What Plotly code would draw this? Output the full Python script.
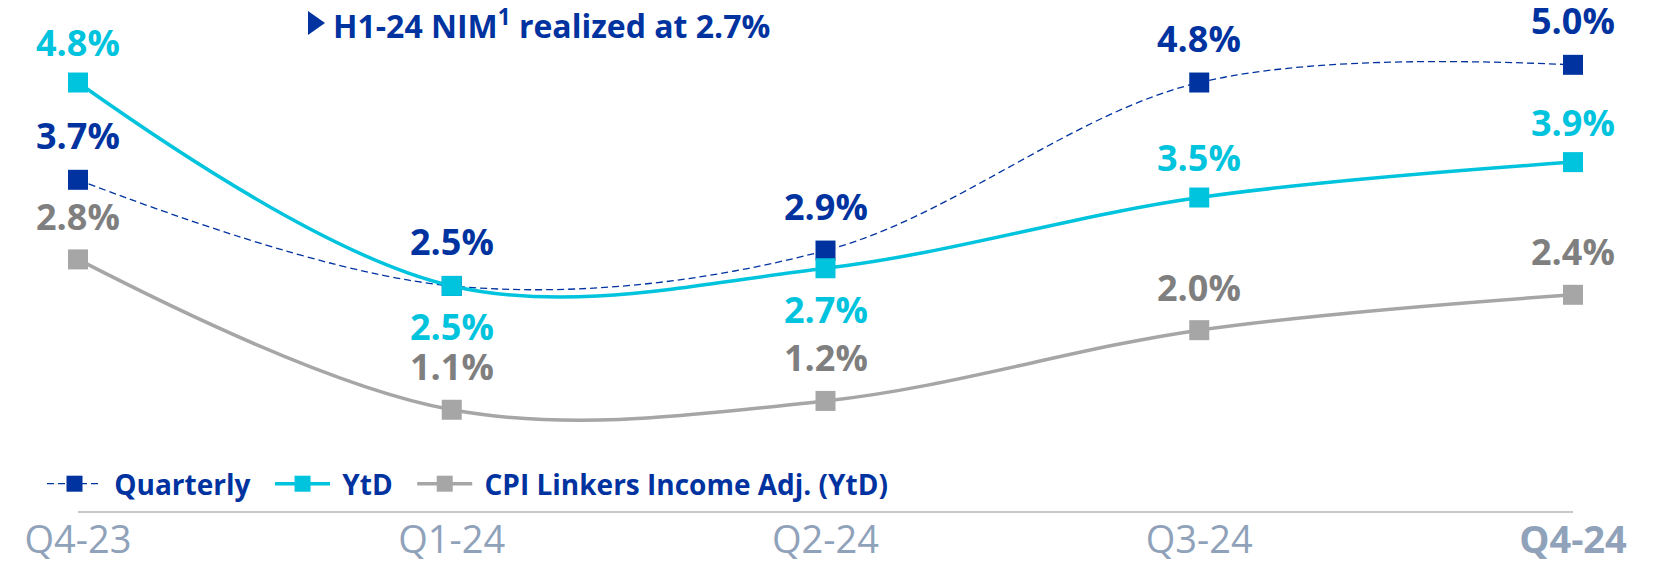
import plotly.graph_objects as go

# ---- data ----
quarters = ["Q4-23", "Q1-24", "Q2-24", "Q3-24", "Q4-24"]
quarterly = [3.7, 2.5, 2.9, 4.8, 5.0]
ytd = [4.8, 2.5, 2.7, 3.5, 3.9]
cpi_adj = [2.8, 1.1, 1.2, 2.0, 2.4]
series_names = ["Quarterly", "YtD", "CPI Linkers Income Adj. (YtD)"]
# label side per point (+1 above, -1 below)
ytd_label_side = [1, -1, -1, 1, 1]
quarterly_label_side = [1, 1, 1, 1, 1]
cpi_label_side = [1, 1, 1, 1, 1]
headline = "H1-24 NIM<sup>1</sup> realized at 2.7%"

DARK = "#0033A0"
CYAN = "#00C3DD"
GREY = "#A6A6A6"
GREY_TXT = "#7F7F7F"
TICK = "#8FA2BA"
FONT = "Open Sans"

xs = list(range(len(quarters)))
NB = "\u00a0"

fig = go.Figure()
fig.add_trace(go.Scatter(
    x=xs, y=quarterly, name=NB + series_names[0] + NB * 2, mode="lines+markers", cliponaxis=False,
    line=dict(color=DARK, width=1.3, dash="7px,4px", shape="spline", smoothing=1),
    marker=dict(symbol="square", size=20, color=DARK),
))
fig.add_trace(go.Scatter(
    x=xs, y=ytd, name=NB + series_names[1] + NB * 2, mode="lines+markers", cliponaxis=False,
    line=dict(color=CYAN, width=3.5, shape="spline", smoothing=1),
    marker=dict(symbol="square", size=20, color=CYAN),
))
fig.add_trace(go.Scatter(
    x=xs, y=cpi_adj, name=NB + series_names[2], mode="lines+markers", cliponaxis=False,
    line=dict(color=GREY, width=3.5, shape="spline", smoothing=1),
    marker=dict(symbol="square", size=20, color=GREY),
))

annotations = []
for vals, sides, col, up in [(quarterly, quarterly_label_side, DARK, 44),
                             (ytd, ytd_label_side, CYAN, 40),
                             (cpi_adj, cpi_label_side, GREY_TXT, 43)]:
    for i, v in enumerate(vals):
        annotations.append(dict(
            x=xs[i], y=v, xref="x", yref="y", text=f"<b>{v:.1f}%</b>",
            showarrow=False, yanchor="middle", xanchor="center",
            yshift=up if sides[i] > 0 else -41,
            font=dict(family=FONT, size=36, color=col),
        ))

# page is drawn with an 8px body offset; targets below are screen pixels
OFF = 8
W, H = 1660, 571
X0_SCREEN, X4_SCREEN, PLOT_LEFT_SCREEN = 78, 1573, 30
unit = (X4_SCREEN - X0_SCREEN) / 4.0
x_lo = -(X0_SCREEN - PLOT_LEFT_SCREEN) / unit
L, R = PLOT_LEFT_SCREEN - OFF, 1660 - X4_SCREEN + OFF
T, B = 10 - OFF, 571 - (512 - OFF)
pw, ph = W - L - R, H - T - B


def px_x(sx):
    return (sx - OFF - L) / pw


def px_y(sy):
    return (H - (sy - OFF) - B) / ph


annotations.append(dict(
    x=px_x(331), y=px_y(24), xref="paper", yref="paper", text=f"<b>{headline}</b>",
    showarrow=False, xanchor="left", yanchor="middle",
    font=dict(family=FONT, size=32, color=DARK),
))

shapes = [
    dict(
        type="path", xref="paper", yref="paper",
        xsizemode="pixel", ysizemode="pixel",
        xanchor=px_x(308), yanchor=px_y(23),
        path="M0,-12 L17,0 L0,12 Z",
        fillcolor=DARK, line=dict(width=0), layer="above",
    ),
    # category axis baseline spanning first to last quarter
    dict(
        type="line", xref="x", yref="paper", x0=xs[0], x1=xs[-1], y0=0, y1=0,
        line=dict(color="#C8C8C8", width=2), layer="below",
    ),
]

ticktext = quarters[:-1] + [f"<b>{quarters[-1]}</b>"]

fig.update_layout(
    width=W, height=H,
    margin=dict(l=L, r=R, t=T, b=B, autoexpand=False),
    paper_bgcolor="white", plot_bgcolor="white",
    font=dict(family=FONT),
    hovermode=False,
    showlegend=True,
    legend=dict(
        orientation="h", x=px_x(42), y=px_y(484), xanchor="left", yanchor="middle",
        font=dict(family=FONT, size=28, color=DARK, weight="bold"),
        bgcolor="rgba(0,0,0,0)", itemwidth=55, tracegroupgap=0,
    ),
    xaxis=dict(
        range=[x_lo, 4], tickmode="array", tickvals=xs, ticktext=ticktext,
        showgrid=False, zeroline=False, showline=False,
        ticks="", tickfont=dict(family=FONT, size=38, color=TICK),
        ticklabelstandoff=2,
    ),
    yaxis=dict(
        range=[-0.056, 5.62], visible=False, showgrid=False, zeroline=False,
    ),
    annotations=annotations,
    shapes=shapes,
)

fig.write_html("out.html")
